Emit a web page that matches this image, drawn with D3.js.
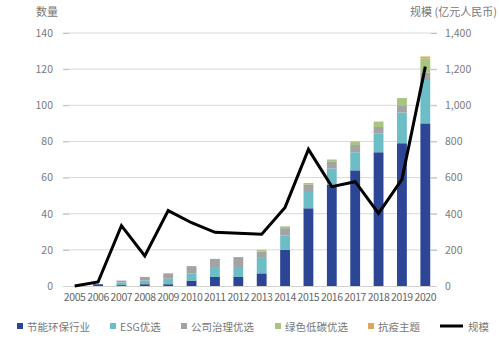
<!DOCTYPE html>
<html><head><meta charset="utf-8">
<script src="https://cdn.jsdelivr.net/npm/d3@7"></script>
<style>
body{margin:0;background:#fff;}
text{font-family:"Noto Sans CJK SC","Noto Sans",sans-serif;}
</style></head><body>
<svg id="c" width="499" height="342"></svg>
<script>
const years = ["2005","2006","2007","2008","2009","2010","2011","2012","2013","2014","2015","2016","2017","2018","2019","2020"];
const seriesNames = ["节能环保行业","ESG优选","公司治理优选","绿色低碳优选","抗疫主题"];
const energy  = [0, 1, 0.5, 1, 1, 3, 5, 5, 7, 20, 43, 56, 64, 74, 79, 90];
const esg     = [0, 0, 1.5, 2, 3, 4, 5, 5.5, 9, 8, 9, 9, 10, 10.5, 17, 24];
const gov     = [0, 0, 1, 2, 3, 4, 5, 5.5, 3, 4, 4, 4, 4, 3.5, 4, 4];
const green   = [0, 0, 0, 0, 0, 0, 0, 0, 1, 1, 1, 1, 2, 3, 4, 8];
const covid   = [0, 0, 0, 0, 0, 0, 0, 0, 0, 0, 0, 0, 0, 0, 0, 1];
const scale   = [0, 22, 334, 166, 417, 350, 297, 292, 286, 435, 756, 550, 577, 402, 590, 1214];
const leftTicks = [0,20,40,60,80,100,120,140];
const rightTicks = [0,200,400,600,800,1000,1200,1400];
const colors = ["#2c4595","#6dbdc6","#a3a3a3","#a9c47f","#d8a95c"];

const svg = d3.select("#c");
const x0 = 63, x1 = 437, yTop = 33, yBot = 286;
const x = d3.scaleBand().domain(years).range([x0, x1]).paddingInner(0.58).paddingOuter(0.29);
const yL = d3.scaleLinear().domain([0,140]).range([yBot, yTop]);
const yR = d3.scaleLinear().domain([0,1400]).range([yBot, yTop]);

// gridlines
svg.append("g").selectAll("line").data(leftTicks.slice(1)).join("line")
  .attr("x1", x0).attr("x2", x1).attr("y1", d=>yL(d)).attr("y2", d=>yL(d))
  .attr("stroke", "#d9d9d9").attr("stroke-width", 1);

// left axis
const la = svg.append("g").attr("transform", `translate(${x0},0)`)
  .call(d3.axisLeft(yL).tickValues(leftTicks).tickSize(-5).tickPadding(10).tickFormat(d3.format(",")));
la.select(".domain").remove();
la.selectAll("line").attr("stroke","#bfbfbf").attr("x1",0).attr("x2",6);
la.selectAll("text").attr("fill","#7a7a7a").attr("font-size","10.5px");

// right axis
const ra = svg.append("g").attr("transform", `translate(${x1},0)`)
  .call(d3.axisRight(yR).tickValues(rightTicks).tickSize(0).tickPadding(8).tickFormat(d3.format(",")));
ra.select(".domain").remove();
ra.selectAll(".tick").append("line").attr("x1",-6).attr("x2",0).attr("stroke","#bfbfbf");
ra.selectAll("text").attr("fill","#7a7a7a").attr("font-size","10.5px");

// baseline
svg.append("line").attr("x1",x0).attr("x2",x1).attr("y1",yBot+0.5).attr("y2",yBot+0.5).attr("stroke","#d0d0d0");

// stacked bars
const table = years.map((y,i)=>({year:y, s0:energy[i], s1:esg[i], s2:gov[i], s3:green[i], s4:covid[i]}));
const stack = d3.stack().keys(["s0","s1","s2","s3","s4"])(table);
svg.append("g").selectAll("g").data(stack).join("g").attr("fill",(d,i)=>colors[i])
  .selectAll("rect").data(d=>d).join("rect")
  .attr("x", d=>x(d.data.year)).attr("width", x.bandwidth())
  .attr("y", d=>yL(d[1])).attr("height", d=>Math.max(0, yL(d[0])-yL(d[1])));

// line
const line = d3.line().x((d,i)=>x(years[i])+x.bandwidth()/2).y(d=>yR(d));
svg.append("path").datum(scale).attr("d", line).attr("fill","none")
  .attr("stroke","#000").attr("stroke-width",3).attr("stroke-linejoin","miter");

// x labels
svg.append("g").selectAll("text").data(years).join("text")
  .attr("x", d=>x(d)+x.bandwidth()/2).attr("y", 301).attr("text-anchor","middle")
  .attr("font-size","10.5px").attr("letter-spacing","-0.4px").attr("fill","#666").text(d=>d);

// titles
svg.append("text").attr("x",47).attr("y",16).attr("text-anchor","middle").attr("font-size","11px").attr("fill","#777").text("数量");
svg.append("text").attr("x",497).attr("y",16).attr("text-anchor","end").attr("font-size","11px").attr("fill","#777").text("规模 (亿元人民币)");

// legend
const legX = [17,110,181,275,368];
const lg = svg.append("g");
seriesNames.forEach((n,i)=>{
  lg.append("rect").attr("x",legX[i]).attr("y",323).attr("width",6).attr("height",6).attr("fill",colors[i]);
  lg.append("text").attr("x",legX[i]+10).attr("y",330.5).attr("font-size","10.5px").attr("fill","#777").text(n);
});
lg.append("line").attr("x1",440).attr("x2",463).attr("y1",326).attr("y2",326).attr("stroke","#000").attr("stroke-width",3);
lg.append("text").attr("x",468).attr("y",330.5).attr("font-size","10.5px").attr("fill","#777").text("规模");
</script></body></html>
